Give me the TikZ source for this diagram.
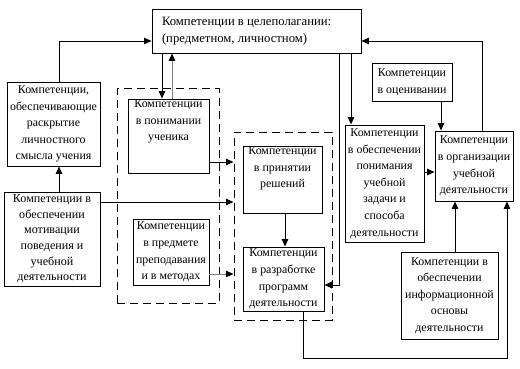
\documentclass[tikz,border=0pt]{standalone}
\usepackage{fontspec}
\setmainfont{Liberation Serif}
\usetikzlibrary{arrows.meta}
\begin{document}
\begin{tikzpicture}[x=1pt,y={(0pt,-1pt)},
  box/.style={draw=black, line width=0.9pt, inner sep=0pt, fill=white},
  dbox/.style={draw=black, line width=1pt, dash pattern=on 8pt off 5pt},
  arr/.style={draw=black, line width=0.9pt, -{Triangle[length=7.5pt,width=6.5pt,color=black,fill=black]}},
  garr/.style={arr, draw=gray},
  lines/.style={line width=0.9pt}]
\useasboundingbox (0,0) rectangle (520,369);
\fill[white] (0,0) rectangle (520,369);
\newcommand\bt[4]{\parbox[c][#2pt][#3]{#1pt}{\centering\fontsize{11.9}{16.6}\selectfont #4}}
% dashed groups
\node[dbox, minimum width=102pt, minimum height=214pt] (dashA) at (168,196) {};
\node[dbox, minimum width=98pt, minimum height=188pt] (dashB) at (283,226) {};
% boxes
\node[box] (top) at (256.5,31) {\parbox[c][44pt][c]{209pt}{\hspace*{10pt}\fontsize{12.7}{17}\selectfont Компетенции в целеполагании:\\\hspace*{10pt}(предметном, личностном)}};
\node[box] (lichn) at (53.5,124) {\bt{93}{84}{c}{Компетенции,\\обеспечивающие\\раскрытие\\личностного\\смысла учения}};
\node[box] (motiv) at (52,239) {\parbox[c][94pt][c]{96pt}{\centering\fontsize{12.1}{15.6}\selectfont Компетенции в\\обеспечении\\мотивации\\поведения и\\учебной\\деятельности}};
\node[box] (ponim) at (168.5,136) {\bt{81}{74}{t}{\vspace*{1pt}Компетенции\\в понимании\\ученика}};
\node[box] (predm) at (171,252) {\bt{76}{66}{c}{Компетенции\\в предмете\\преподавания\\и в методах}};
\node[box] (resh) at (282.5,179.5) {\bt{79}{67}{t}{\vspace*{1pt}Компетенции\\в принятии\\решений}};
\node[box] (razr) at (283.5,279) {\bt{81}{64}{c}{Компетенции\\в разработке\\программ\\деятельности}};
\node[box] (ocen) at (412,82) {\bt{80}{38}{c}{Компетенции\\в оценивании}};
\node[box] (obesp) at (384.5,183.5) {\bt{79}{117}{c}{Компетенции\\в обеспечении\\понимания\\учебной\\задачи и\\способа\\деятельности}};
\node[box] (org) at (474,166) {\bt{78}{70}{c}{Компетенции\\в организации\\учебной\\деятельности}};
\node[box] (info) at (449.5,295.5) {\bt{97}{87}{c}{Компетенции в\\обеспечении\\информационной\\основы\\деятельности}};
% guide coordinates
\coordinate (xA) at (59,0);
\coordinate (xB) at (162,0);
\coordinate (xC) at (172,0);
\coordinate (xD) at (285,0);
\coordinate (xE) at (339,0);
\coordinate (xF) at (351,0);
\coordinate (xG) at (441,0);
\coordinate (xH) at (482,0);
\coordinate (xI) at (455,0);
\coordinate (xJ) at (303,0);
\coordinate (xK) at (507,0);
\coordinate (yA) at (0,41);
\coordinate (yB) at (0,202);
\coordinate (yC) at (0,162);
\coordinate (yD) at (0,274);
\coordinate (yE) at (0,285);
\coordinate (yF) at (0,172);
\coordinate (yG) at (0,358);
% connectors
\draw[arr] (lichn.north -| xA) |- (top.west |- yA);
\draw[arr] (motiv.north -| xA) -- (lichn.south -| xA);
\draw[arr] (motiv.east |- yB) -- (dashB.west |- yB);
\draw[arr] (ponim.east |- yC) -- (dashB.west |- yC);
\draw[garr] (predm.east |- yD) -- (dashB.west |- yD);
\draw[arr] (top.south -| xB) -- (ponim.north -| xB);
\draw[garr] (ponim.north -| xC) -- (top.south -| xC);
\draw[arr] (resh.south -| xD) -- (razr.north -| xD);
\draw[arr] (top.south -| xE) |- (razr.east |- yE);
\draw[arr] (top.south -| xF) -- (obesp.north -| xF);
\draw[arr] (ocen.south -| xG) -- (org.north -| xG);
\draw[arr] (obesp.east |- yF) -- (org.west |- yF);
\draw[arr] (org.north -| xH) |- (top.east |- yA);
\draw[arr] (info.north -| xI) -- (org.south -| xI);
\draw[arr] (razr.south -| xJ) |- (yG -| xK) -- (org.south -| xK);
\end{tikzpicture}
\end{document}
